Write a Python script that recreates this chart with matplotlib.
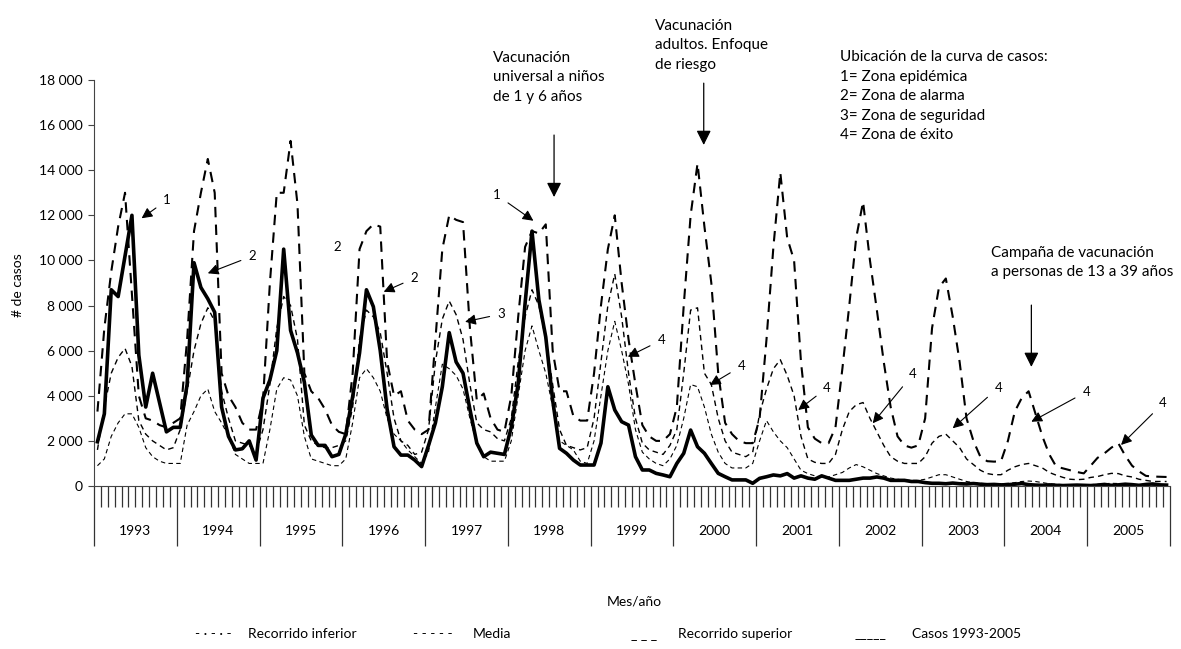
import numpy as np
import matplotlib.pyplot as plt
from matplotlib.transforms import blended_transform_factory

plt.rcParams['font.family'] = ['Lato', 'DejaVu Sans']

years = list(range(1993, 2006))

# monthly values, one row per year (Jan..Dec)
casos = [
    1960, 3200, 8700, 8400, 10200, 12000, 5800, 3500, 5000, 3700, 2400, 2600,
    2600, 4500, 9900, 8800, 8300, 7700, 3500, 2200, 1600, 1650, 2000, 1150,
    3900, 4700, 6000, 10500, 6900, 5900, 4600, 2260, 1800, 1800, 1300, 1400,
    2300, 3960, 5900, 8700, 7950, 6000, 3400, 1740, 1370, 1370, 1150, 860,
    1800, 2800, 4400, 6800, 5500, 5000, 3400, 1900, 1300, 1500, 1450, 1400,
    2600, 4550, 8100, 11300, 8250, 6600, 3800, 1670, 1450, 1150, 930, 930,
    930, 1900, 4400, 3370, 2850, 2700, 1300, 710, 710, 560, 490, 410,
    1000, 1450, 2480, 1740, 1450, 1000, 560, 410, 270, 270, 270, 120,
    340, 410, 490, 450, 550, 350, 450, 350, 300, 450, 350, 250,
    250, 250, 300, 350, 350, 400, 350, 250, 250, 250, 200, 200,
    150, 120, 120, 100, 130, 100, 90, 110, 80, 60, 70, 50,
    60, 80, 110, 60, 40, 30, 50, 30, 20, 30, 40, 30,
    20, 40, 70, 30, 50, 80, 60, 30, 70, 90, 50, 40,
]

superior = [
    3300, 7000, 9500, 11500, 13000, 8500, 4000, 3000, 2900, 2700, 2600, 2800,
    3000, 6500, 11300, 13000, 14500, 13000, 5000, 4000, 3500, 2800, 2500, 2500,
    3800, 9000, 13000, 13000, 15300, 12500, 5000, 4200, 3900, 3400, 2700, 2400,
    2300, 5000, 10500, 11300, 11600, 11500, 5500, 4000, 4200, 2900, 2500, 2300,
    2500, 6500, 10500, 12000, 11800, 11700, 7000, 3800, 4100, 3000, 2500, 2400,
    4000, 7500, 10600, 11300, 11200, 11600, 6000, 4200, 4200, 3100, 2900, 2900,
    5000, 8000, 10500, 12000, 9000, 6500, 4500, 2700, 2200, 2000, 2000, 2300,
    3500, 8000, 12000, 14300, 11500, 9000, 5000, 2800, 2300, 2000, 1900, 1900,
    3000, 6500, 10600, 13900, 11000, 10000, 5500, 2600, 2100, 1900, 1900, 2600,
    5200, 8000, 11000, 12600, 10000, 7800, 5500, 3500, 2200, 1800, 1700, 1800,
    3000, 7000, 8800, 9200, 7500, 5500, 3000, 2000, 1300, 1100, 1080, 1100,
    2000, 3300, 3900, 4200, 3200, 2200, 1400, 860, 780, 700, 620, 560,
    900, 1250, 1450, 1700, 1900, 1350, 900, 650, 450, 420, 410, 400,
]

media = [
    1600, 3500, 5000, 5700, 6100, 5300, 2900, 2300, 2000, 1800, 1600, 1700,
    2500, 4200, 6000, 7200, 7900, 7300, 4200, 3000, 2000, 1900, 1800, 1500,
    2500, 4500, 7000, 8400, 8000, 6500, 2700, 2000, 1800, 1700, 1700, 1800,
    2000, 3500, 6500, 7800, 7500, 6800, 5000, 3000, 2000, 1800, 1400, 1500,
    2500, 5500, 7400, 8200, 7600, 6500, 4500, 2800, 2500, 2400, 2100, 2000,
    3000, 5500, 7500, 8700, 8000, 6500, 4500, 2500, 1800, 1700, 1600, 1700,
    3000, 5500, 8000, 9400, 7500, 5000, 3000, 1900, 1600, 1500, 1400, 1800,
    2500, 5000, 7800, 7900, 5000, 4500, 3000, 2000, 1500, 1400, 1300, 1500,
    3200, 4300, 5200, 5600, 4900, 4000, 2200, 1200, 1050, 1000, 1000, 1400,
    2500, 3300, 3600, 3700, 3000, 2400, 1800, 1300, 1100, 1000, 1000, 1000,
    1300, 1900, 2200, 2300, 2000, 1700, 1200, 950, 700, 550, 500, 500,
    700, 850, 950, 1000, 900, 800, 600, 480, 380, 300, 280, 300,
    380, 420, 500, 560, 550, 450, 400, 300, 250, 200, 200, 200,
]

inferior = [
    900, 1200, 2200, 2800, 3200, 3200, 2600, 1700, 1300, 1100, 1000, 1000,
    1000, 2700, 3300, 4000, 4300, 3300, 2800, 2200, 1400, 1200, 1000, 1000,
    1000, 2500, 4300, 4800, 4700, 4000, 2200, 1200, 1100, 1000, 900, 900,
    1200, 2800, 4800, 5200, 4800, 4200, 3000, 2300, 2000, 1600, 1300, 1000,
    1500, 3500, 5400, 5200, 4900, 4300, 3000, 1900, 1300, 1100, 1100, 1100,
    2000, 4000, 6000, 7100, 6000, 5000, 3500, 2000, 1800, 1600, 1100, 1000,
    2000, 4000, 6000, 7300, 6000, 4500, 2500, 1500, 1200, 1000, 900, 1200,
    1800, 3000, 4500, 4400, 3500, 2300, 1500, 1000, 800, 800, 800, 1000,
    2000, 2900, 2400, 2000, 1700, 1200, 700, 550, 450, 400, 400, 500,
    600, 800, 950, 850, 700, 550, 450, 350, 300, 250, 250, 250,
    300, 400, 500, 500, 400, 300, 200, 150, 120, 100, 100, 100,
    120, 150, 200, 220, 200, 150, 100, 80, 60, 50, 50, 50,
    60, 80, 100, 120, 110, 90, 70, 50, 40, 40, 40, 40,
]

yticks = list(range(0, 18001, 2000))

months = np.arange(len(casos))

fig = plt.figure(figsize=(11.81, 6.49), dpi=100)
ax = fig.add_axes([94 / 1181, 1 - 486 / 649, 1076 / 1181, 406 / 649])

ax.plot(months, inferior, color='black', lw=0.8, dashes=(4, 3))
ax.plot(months, media, color='black', lw=1.0, dashes=(4, 3))
ax.plot(months, superior, color='black', lw=1.5, dashes=(5, 3.5))
ax.plot(months, casos, color='black', lw=2.6)

ax.set_xlim(-0.5, len(months) - 0.5)
ax.set_ylim(0, 18000)

# axes
for side in ('top', 'right'):
    ax.spines[side].set_visible(False)
ax.spines['left'].set_color('#444444')
ax.spines['bottom'].set_color('#444444')

ax.set_yticks(yticks)
ax.set_yticklabels([f"{v:,}".replace(",", " ") for v in yticks], fontsize=10)
ax.tick_params(axis='y', length=4, color='#444444', pad=4)

ax.set_xticks(np.arange(-0.5, len(months), 12))
ax.set_xticks(np.arange(-0.5, len(months), 1), minor=True)
ax.set_xticklabels([])
ax.tick_params(axis='x', which='major', length=43, color='#333333', width=0.9)
ax.tick_params(axis='x', which='minor', length=15, color='#333333', width=0.9)

trans = blended_transform_factory(ax.transData, ax.transAxes)
for k, yr in enumerate(years):
    ax.text(12 * k + 5.5, -0.112, str(yr), transform=trans,
            ha='center', va='center', fontsize=10)

fig.text(18 / 1181, 1 - 285 / 649, '# de casos', rotation=90,
         ha='center', va='center', fontsize=10)
fig.text(634 / 1181, 1 - 602 / 649, 'Mes/año', ha='center', va='center',
         fontsize=10)

# legend (typed samples as in the original)
legend_items = [
    (195, '- · - · -', 248, 'Recorrido inferior'),
    (413, '- - - - -', 473, 'Media'),
    (631, '_ _ _', 678, 'Recorrido superior'),
    (855, '_____', 912, 'Casos 1993-2005'),
]
for xs, sample, xt, label in legend_items:
    fig.text(xs / 1181, 1 - 634 / 649, sample, ha='left', va='center',
             fontsize=10)
    fig.text(xt / 1181, 1 - 634 / 649, label, ha='left', va='center',
             fontsize=10)

# event notes
note = dict(ha='left', va='center', fontsize=11, linespacing=1.5,
            clip_on=False)
ax.text(57.3, 18130, 'Vacunación\nuniversal a niños\nde 1 y 6 años', **note)
ax.text(80.8, 19550, 'Vacunación\nadultos. Enfoque\nde riesgo', **note)
ax.text(107.6, 17290, 'Ubicación de la curva de casos:\n1= Zona epidémica\n'
        '2= Zona de alarma\n3= Zona de seguridad\n4= Zona de éxito', **note)
ax.text(129.6, 9910, 'Campaña de vacunación\na personas de 13 a 39 años',
        **note)

big = dict(arrowstyle='-|>', color='black', lw=0.9, mutation_scale=22,
           shrinkA=0, shrinkB=0)
for xv, y0, y1 in [(66.2, 15560, 12810), (87.9, 17860, 15120),
                   (135.4, 8020, 5280)]:
    ax.annotate('', xy=(xv, y1), xytext=(xv, y0), arrowprops=big,
                annotation_clip=False)

# zone labels: label, text position, arrow tip
zones = [
    ('1', 10.1, 12680, 6.4, 11870),
    ('2', 22.5, 10200, 16.0, 9430),
    ('2', 46.0, 9220, 41.5, 8610),
    ('3', 58.6, 7630, 53.3, 7280),
    ('1', 57.9, 12900, 63.2, 11760),
    ('4', 81.8, 6470, 76.9, 5730),
    ('4', 93.4, 5320, 88.8, 4480),
    ('4', 105.8, 4360, 101.6, 3370),
    ('4', 118.2, 4950, 112.4, 2780),
    ('4', 130.6, 4360, 124.0, 2560),
    ('4', 143.4, 4180, 135.4, 2850),
    ('4', 154.5, 3670, 148.4, 1820),
]
small = dict(arrowstyle='-|>', color='black', lw=0.8, mutation_scale=16,
             shrinkA=4, shrinkB=0)
for lab, tx, ty, px, py in zones:
    ax.annotate(lab, xy=(px, py), xytext=(tx, ty), fontsize=9.5,
                ha='center', va='center', arrowprops=small,
                annotation_clip=False)
ax.text(34.7, 10610, '2', ha='center', va='center', fontsize=9.5)

fig.savefig('out.png', dpi=100)
